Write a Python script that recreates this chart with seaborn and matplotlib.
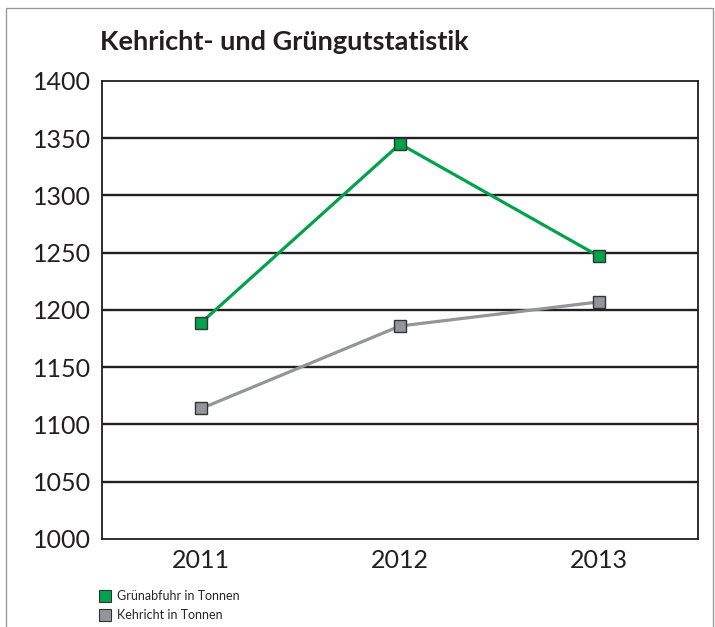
import matplotlib
matplotlib.use("Agg")
import matplotlib.pyplot as plt
import seaborn as sns
import pandas as pd
from matplotlib.lines import Line2D
from matplotlib.patches import Rectangle

years = ["2011", "2012", "2013"]
gruen = [1189, 1345, 1247]
kehricht = [1114, 1186, 1207]
series_names = ["Grünabfuhr in Tonnen", "Kehricht in Tonnen"]
yticks = [1000, 1050, 1100, 1150, 1200, 1250, 1300, 1350, 1400]
title = "Kehricht- und Grüngutstatistik"

sns.set_theme(style="white")
plt.rcParams['font.family'] = ['Lato', 'DejaVu Sans']

df = pd.DataFrame({
    "Jahr": years * 2,
    "Wert": gruen + kehricht,
    "Serie": [series_names[0]] * 3 + [series_names[1]] * 3,
})

colors = {series_names[0]: "#00a24b", series_names[1]: "#939598"}

fig = plt.figure(figsize=(7.15, 6.27), dpi=100)
ax = fig.add_axes([0.1427, 0.1404, 0.8336, 0.7305])

sns.lineplot(data=df, x="Jahr", y="Wert", hue="Serie", palette=colors,
             marker="s", markersize=9, markeredgecolor="#333333",
             markeredgewidth=1.0, linewidth=2.3, ax=ax, legend=False,
             sort=False)

ax.set_xlim(-0.5, 2.5)
ax.set_ylim(1000, 1400)
ax.set_yticks(yticks)
ax.set_yticklabels([str(v) for v in yticks], fontsize=18, color="#231f20")
ax.set_xticks([0, 1, 2])
ax.set_xticklabels(years, fontsize=18, color="#231f20")
ax.set_xticks([0.5, 1.5], minor=True)
ax.tick_params(axis="x", which="major", length=0, pad=7)
ax.tick_params(axis="x", which="minor", direction="in", length=9.5, width=1.3, color="#231f20")
ax.tick_params(axis="y", length=0, pad=8)
ax.set_xlabel("")
ax.set_ylabel("")

for y in yticks[1:-1]:
    ax.axhline(y, color="#231f20", linewidth=1.7, zorder=0)

for s in ax.spines.values():
    s.set_visible(True)
    s.set_color("#231f20")
    s.set_linewidth(1.3)

fig.text(100 / 715, 1 - 42 / 627, title, fontsize=19.5, fontweight="bold",
         color="#231f20", ha="left", va="center")

handles = [Line2D([], [], linestyle="none", marker="s", markersize=8,
                  markerfacecolor=colors[n], markeredgecolor="#333333",
                  markeredgewidth=0.8) for n in series_names]
fig.legend(handles, series_names, loc="upper left",
           bbox_to_anchor=(97 / 715, 1 - 590 / 627), frameon=False,
           fontsize=9, handletextpad=0.4, labelspacing=0.55,
           borderaxespad=0, borderpad=0, handlelength=1.2)

fig.patches.append(Rectangle((6 / 715, -0.01), 707 / 715, 1 - 8 / 627 + 0.01,
                             transform=fig.transFigure, fill=False,
                             edgecolor="#999999", linewidth=1.0))

fig.savefig("out.png", dpi=100)
